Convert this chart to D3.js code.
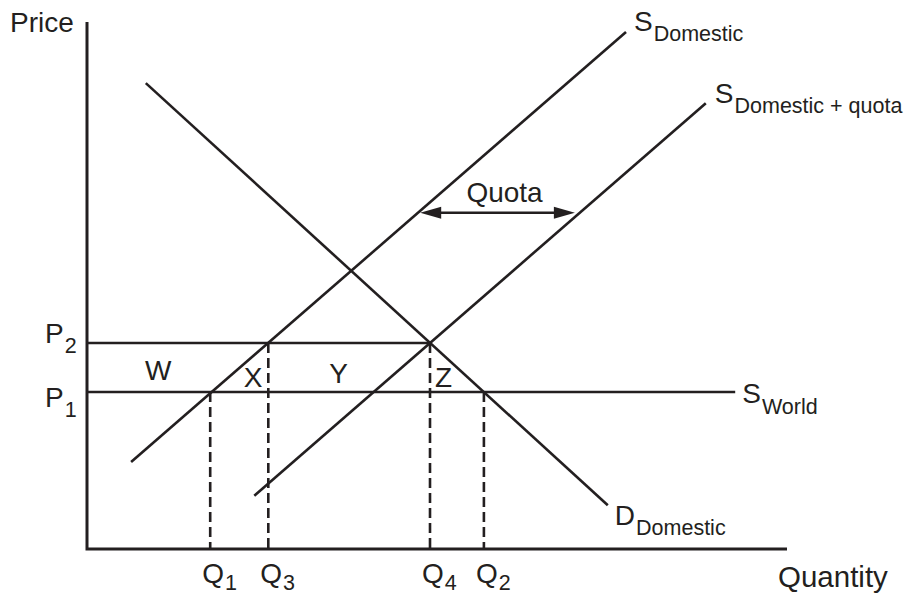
<!DOCTYPE html>
<html>
<head>
<meta charset="utf-8">
<script src="https://cdn.jsdelivr.net/npm/d3@7"></script>
<style>
  html, body { margin: 0; padding: 0; background: #fff; }
  svg { display: block; }
  text { font-family: "Liberation Sans", Arial, Helvetica, sans-serif; fill: #231f20; }
</style>
</head>
<body>
<svg id="chart" width="909" height="594"></svg>
<script>
// ---- Data (abstract units: quantity 0-100, price 0-100) ----
const quantities = { Q1: 17.6, Q3: 25.9, Q4: 49.0, Q2: 56.7 };
const prices = { P1: 29.8, P2: 39.1 };
const supplyDomestic = [[6.3, 16.5], [77.0, 98.1]];
const supplyDomesticQuota = [[23.9, 10.1], [88.4, 84.6]];
const demandDomestic = [[8.4, 88.4], [74.4, 8.3]];
const worldSupplyEnd = 92.6;
const quotaArrow = { y: 63.8, x0: 47.6, x1: 69.7 };
const areaLabels = [
  { t: "W", q: 8.3, p: 32.0 },
  { t: "X", q: 22.4, p: 30.7 },
  { t: "Y", q: 34.6, p: 31.5 },
  { t: "Z", q: 49.7, p: 30.7 }
];

const ink = "#231f20";
const svg = d3.select("#chart");
const x = d3.scaleLinear().domain([0, 100]).range([87, 787]);
const y = d3.scaleLinear().domain([0, 100]).range([549, 22]);
const line = d3.line().x(d => x(d[0])).y(d => y(d[1]));

// axes
svg.append("path").attr("d", line([[0, 100], [0, 0], [100, 0]]))
  .attr("fill", "none").attr("stroke", ink).attr("stroke-width", 3);

// price lines
svg.append("path").attr("d", line([[0, prices.P2], [quantities.Q4, prices.P2]]))
  .attr("fill", "none").attr("stroke", ink).attr("stroke-width", 2.6);
svg.append("path").attr("d", line([[0, prices.P1], [worldSupplyEnd, prices.P1]]))
  .attr("fill", "none").attr("stroke", ink).attr("stroke-width", 2.6);

// dashed verticals
const dashes = [
  [quantities.Q1, prices.P1], [quantities.Q3, prices.P2],
  [quantities.Q4, prices.P2], [quantities.Q2, prices.P1]
];
dashes.forEach(d => {
  svg.append("path").attr("d", line([[d[0], d[1]], [d[0], 0]]))
    .attr("fill", "none").attr("stroke", ink).attr("stroke-width", 2.6)
    .attr("stroke-dasharray", "10,5");
});

// curves
[supplyDomestic, supplyDomesticQuota, demandDomestic].forEach(c => {
  svg.append("path").attr("d", line(c))
    .attr("fill", "none").attr("stroke", ink).attr("stroke-width", 2.6);
});

// quota arrow
const ay = y(quotaArrow.y), ax0 = x(quotaArrow.x0), ax1 = x(quotaArrow.x1);
svg.append("line").attr("x1", ax0 + 10).attr("x2", ax1 - 10).attr("y1", ay).attr("y2", ay)
  .attr("stroke", ink).attr("stroke-width", 2.6);
svg.append("path").attr("d", `M${ax0},${ay} L${ax0 + 21},${ay - 6} L${ax0 + 21},${ay + 6} Z`).attr("fill", ink);
svg.append("path").attr("d", `M${ax1},${ay} L${ax1 - 21},${ay - 6} L${ax1 - 21},${ay + 6} Z`).attr("fill", ink);
svg.append("text").attr("x", (ax0 + ax1) / 2 + 7).attr("y", ay - 11)
  .attr("text-anchor", "middle").attr("font-size", 28).text("Quota");

// helper for subscripted labels
function label(px, py, main, sub, subDy, size) {
  const t = svg.append("text").attr("x", px).attr("y", py).attr("font-size", size || 28);
  t.append("tspan").text(main);
  if (sub) t.append("tspan").attr("font-size", 21.5).attr("dy", subDy).attr("dx", 1).text(sub);
  return t;
}

// axis titles
svg.append("text").attr("x", 10).attr("y", 32).attr("font-size", 28).text("Price");
svg.append("text").attr("x", 778).attr("y", 587).attr("font-size", 29.5).text("Quantity");

// curve labels
label(x(supplyDomestic[1][0]) + 8, y(supplyDomestic[1][1]) - 1, "S", "Domestic", 10);
label(x(supplyDomesticQuota[1][0]) + 9, y(supplyDomesticQuota[1][1]), "S", "Domestic + quota", 10);
label(x(worldSupplyEnd) + 7, y(prices.P1) + 11, "S", "World", 11);
label(x(demandDomestic[1][0]) + 7, y(demandDomestic[1][1]) + 20, "D", "Domestic", 10);

// price labels
label(45, y(prices.P2), "P", "2", 10);
label(45, y(prices.P1) + 15, "P", "1", 10);

// quantity labels
Object.entries(quantities).forEach(([k, v]) => {
  label(x(v) - 8, 583, "Q", k.slice(1), 7);
});

// area labels
areaLabels.forEach(a => {
  svg.append("text").attr("x", x(a.q)).attr("y", y(a.p)).attr("font-size", 28).text(a.t);
});
</script>
</body>
</html>
